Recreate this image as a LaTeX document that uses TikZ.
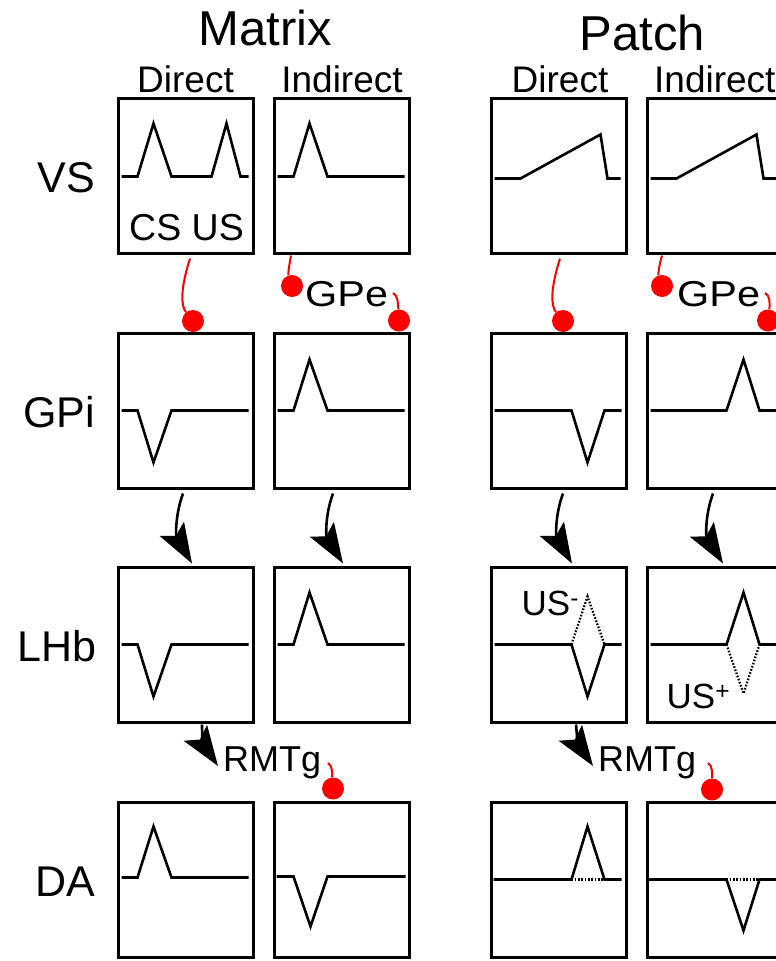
\documentclass[tikz,border=0pt]{standalone}
\usepackage{fontspec}
\setmainfont{Liberation Sans}
\usetikzlibrary{arrows.meta,calc}
\begin{document}
\begin{tikzpicture}[x=1pt,y=-1pt,
  box/.style={draw, line width=3pt, minimum width=135pt, minimum height=155pt, inner sep=0pt},
  sig/.style={line width=2.6pt},
  dots/.style={line width=2.3pt, dash pattern=on 1.6pt off 1.7pt},
  inh/.style={circle, fill=red, minimum size=22pt, inner sep=0pt},
  redline/.style={red, line width=2pt},
  exc/.style={line width=2.6pt, -{Stealth[length=40pt,width=28pt,inset=8pt]}},
  hdr/.style={font=\fontsize{49}{49}\selectfont, inner sep=0pt, anchor=base},
  subhdr/.style={font=\fontsize{37}{37}\selectfont, inner sep=0pt},
  rowlbl/.style={font=\fontsize{43}{43}\selectfont, inner sep=0pt, anchor=base east},
  lbl/.style={font=\fontsize{36}{36}\selectfont, inner sep=0pt, anchor=base west}]
\useasboundingbox (0,0) rectangle (776,961);
\clip (0,0) rectangle (776,961);

% headers
\node[hdr] (hM) at (265.5,45) {Matrix};
\node[hdr] (hP) at (642.5,50) {Patch};
\node[subhdr, anchor=base] (hMD) at (185.5,92) {Direct};
\node[subhdr, anchor=base] (hMI) at (342,92) {Indirect};
\node[subhdr, anchor=base] (hPD) at (560,92) {Direct};
\node[subhdr, anchor=base west] (hPI) at (654,92) {Indirect};

% row labels
\node[rowlbl] (rVS) at (95,192) {VS};
\node[rowlbl] (rGPi) at (95,427) {GPi};
\node[rowlbl] (rLHb) at (97,661) {LHb};
\node[rowlbl] (rDA) at (95,896) {DA};

% boxes
\foreach \r/\y in {vs/175.5, gpi/410.5, lhb/644.5, da/879.5}{
  \node[box] (\r MD) at (185.5,\y) {};
  \node[box] (\r MI) at (341.5,\y) {};
  \node[box] (\r PD) at (558.5,\y) {};
  \node[box] (\r PI) at (714.5,\y) {};
}

% ---- VS signals
\begin{scope}[shift={(vsMD.north west)}]
  \draw[sig] (5,80)--(21,80)--(37,27)--(55,80)--(95,80)--(110,27)--(124,80)--(132,80);
\end{scope}
\node[lbl, font=\fontsize{37.5}{37.5}\selectfont] (csus) at (129,240) {CS US};
\begin{scope}[shift={(vsMI.north west)}]
  \draw[sig] (5,80)--(21,80)--(37,27)--(55,80)--(132,80);
\end{scope}
\begin{scope}[shift={(vsPD.north west)}]
  \draw[sig] (5,82)--(31,82)--(111,38)--(118,82)--(131,82);
\end{scope}
\begin{scope}[shift={(vsPI.north west)}]
  \draw[sig] (5,82)--(31,82)--(111,38)--(118,82)--(131,82);
\end{scope}

% ---- GPi signals
\begin{scope}[shift={(gpiMD.north west)}]
  \draw[sig] (5,79)--(21,79)--(37,131)--(55,79)--(132,79);
\end{scope}
\begin{scope}[shift={(gpiMI.north west)}]
  \draw[sig] (5,79)--(21,79)--(37,28)--(55,79)--(132,79);
\end{scope}
\begin{scope}[shift={(gpiPD.north west)}]
  \draw[sig] (5,79)--(82,79)--(98,131)--(115,79)--(132,79);
\end{scope}
\begin{scope}[shift={(gpiPI.north west)}]
  \draw[sig] (5,79)--(81,79)--(98,28)--(114,79)--(132,79);
\end{scope}

% ---- LHb signals
\begin{scope}[shift={(lhbMD.north west)}]
  \draw[sig] (5,79)--(21,79)--(37,131)--(55,79)--(132,79);
\end{scope}
\begin{scope}[shift={(lhbMI.north west)}]
  \draw[sig] (5,79)--(21,79)--(37,27)--(55,79)--(132,79);
\end{scope}
\begin{scope}[shift={(lhbPD.north west)}]
  \draw[sig] (5,79)--(82,79)--(98,131)--(115,79)--(132,79);
  \draw[dots] (82,79)--(98,31)--(115,79);
\end{scope}
\node[lbl, font=\fontsize{35}{35}\selectfont] (usm) at ($(lhbPD.north west)+(32,50)$) {US\textsuperscript{-}};
\begin{scope}[shift={(lhbPI.north west)}]
  \draw[sig] (5,79)--(81,79)--(98,27)--(114,79)--(132,79);
  \draw[dots] (81,79)--(98,128)--(114,79);
\end{scope}
\node[lbl, font=\fontsize{35}{35}\selectfont] (usp) at ($(lhbPI.north west)+(21,143)$) {US\textsuperscript{+}};

% ---- DA signals
\begin{scope}[shift={(daMD.north west)}]
  \draw[sig] (5,77)--(21,77)--(37,26)--(55,77)--(132,77);
\end{scope}
\begin{scope}[shift={(daMI.north west)}]
  \draw[sig] (4,76)--(21,76)--(38,126)--(55,76)--(133,76);
\end{scope}
\begin{scope}[shift={(daPD.north west)}]
  \draw[sig] (4,79)--(82,79)--(98,26)--(115,79)--(132,79);
  \draw[dots] (82,79)--(115,79);
\end{scope}
\begin{scope}[shift={(daPI.north west)}]
  \draw[sig] (3,79)--(81,79)--(98,130)--(114,79)--(132,79);
  \draw[dots] (81,79)--(114,79);
\end{scope}

% ---- intermediate labels
\node[lbl, font=\fontsize{36}{36}\selectfont] (gpeM) at (305,306) {\scalebox{1.15}[1]{GPe}};
\node[lbl, font=\fontsize{36}{36}\selectfont] (gpeP) at (677,306) {\scalebox{1.15}[1]{GPe}};
\node[lbl] (rmtgM) at (223,771) {RMTg};
\node[lbl] (rmtgP) at (598,771) {RMTg};

% ---- inhibitory (red) connectors, matrix
\node[inh] (i1) at (193,321) {};
\coordinate (s1) at ($(vsMD.south)+(4.5,4)$);
\draw[redline] (s1) .. controls (180,290) and (181,306) .. (i1);
\node[inh] (i2) at (292,286) {};
\coordinate (s2) at ($(vsMI.south)+(-50.5,1)$);
\draw[redline] (s2) .. controls (289,266) and (288,274) .. (i2);
\node[inh] (i3) at ($(gpiMI.north)+(57.5,-11)$) {};
\coordinate (s3) at (393,293);
\draw[redline] (s3) .. controls (398,295) and (398,304) .. (i3);
\node[inh] (i4) at ($(daMI.north)+(-8.5,-12)$) {};
\coordinate (s4) at (328,763);
\draw[redline] (s4) .. controls (333,766) and (332,774) .. (i4);

% ---- inhibitory (red) connectors, patch
\node[inh] (i1p) at (563,321) {};
\coordinate (s1p) at ($(vsPD.south)+(1.5,4)$);
\draw[redline] (s1p) .. controls (550,290) and (551,306) .. (i1p);
\node[inh] (i2p) at (662,286) {};
\coordinate (s2p) at ($(vsPI.south)+(-52.5,1)$);
\draw[redline] (s2p) .. controls (659,266) and (658,274) .. (i2p);
\node[inh] (i3p) at ($(gpiPI.north)+(53.5,-11)$) {};
\coordinate (s3p) at (765,293);
\draw[redline] (s3p) .. controls (770,295) and (770,304) .. (i3p);
\node[inh] (i4p) at ($(daPI.north)+(-2.5,-11)$) {};
\coordinate (s4p) at (708,763);
\draw[redline] (s4p) .. controls (713,766) and (712,774) .. (i4p);

% ---- excitatory (black) arrows, matrix
\coordinate (a1) at ($(gpiMD.south)+(-2.5,4)$);
\coordinate (t1) at ($(lhbMD.north)+(6.5,-2)$);
\draw[exc] (a1) .. controls (175,515) and (176,536) .. (t1);
\coordinate (a2) at ($(gpiMI.south)+(-8.5,4)$);
\coordinate (t2) at ($(lhbMI.north)+(1.5,-2)$);
\draw[exc] (a2) .. controls (325,515) and (326,536) .. (t2);
\coordinate (a3) at ($(lhbMD.south)+(16.5,1)$);
\draw[exc] (a3) .. controls (202,736) and (203,744) .. ($(rmtgM.base west)+(-5,-5)$);

% ---- excitatory (black) arrows, patch
\coordinate (a1p) at ($(gpiPD.south)+(4.5,4)$);
\coordinate (t1p) at ($(lhbPD.north)+(13.5,-2)$);
\draw[exc] (a1p) .. controls (555,515) and (556,536) .. (t1p);
\coordinate (a2p) at ($(gpiPI.south)+(-1.5,4)$);
\coordinate (t2p) at ($(lhbPI.north)+(8.5,-2)$);
\draw[exc] (a2p) .. controls (705,515) and (706,536) .. (t2p);
\coordinate (a3p) at ($(lhbPD.south)+(17.5,1)$);
\draw[exc] (a3p) .. controls (577,736) and (578,744) .. ($(rmtgP.base west)+(-5,-5)$);
\end{tikzpicture}
\end{document}
